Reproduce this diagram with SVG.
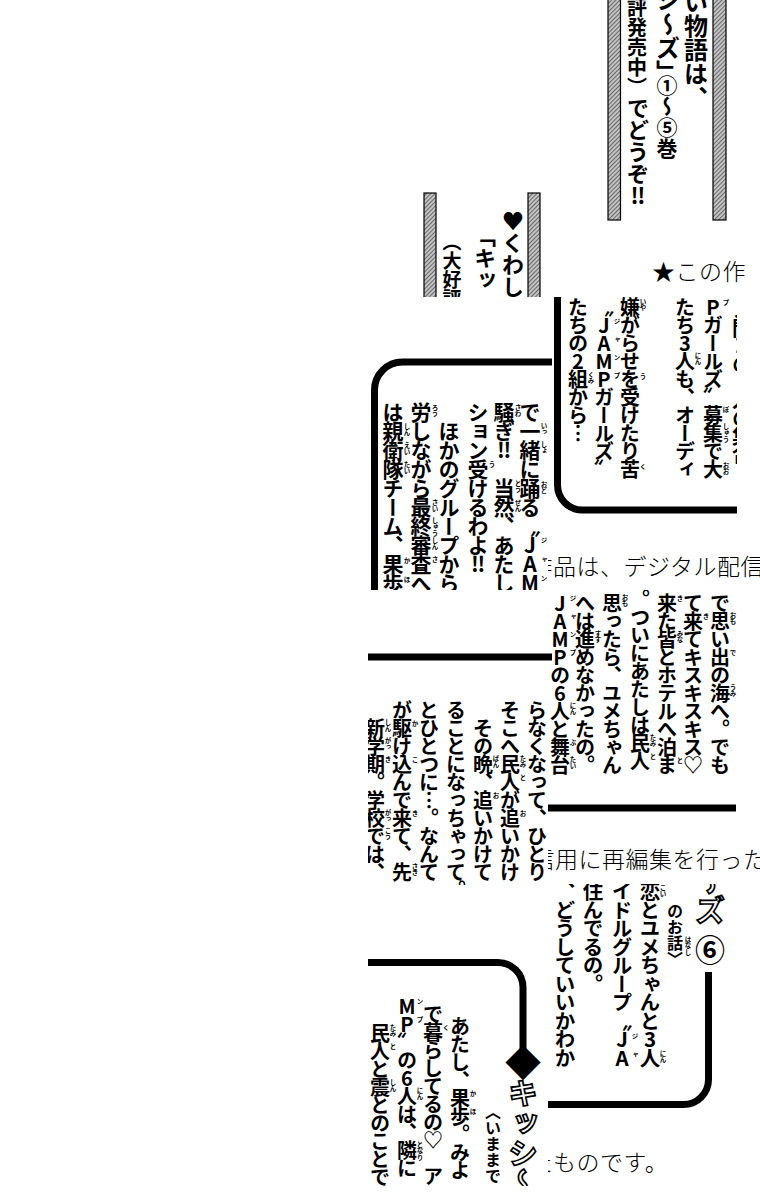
<svg xmlns="http://www.w3.org/2000/svg" width="760" height="1200" viewBox="0 0 760 1200">
<defs>
<pattern id="hatch" width="3" height="3" patternUnits="userSpaceOnUse" patternTransform="rotate(45)"><rect width="3" height="3" fill="#c4c4c4"/><line x1="0.5" y1="0" x2="0.5" y2="3" stroke="#6a6a6a" stroke-width="1.1"/></pattern>
<clipPath id="cA"><rect x="552" y="0" width="208" height="297"/></clipPath>
<clipPath id="cB"><rect x="420" y="190" width="132" height="107"/></clipPath>
<clipPath id="cC"><rect x="548" y="297" width="212" height="293"/></clipPath>
<clipPath id="cC2"><rect x="548" y="297" width="189" height="293"/></clipPath>
<clipPath id="cD"><rect x="368" y="297" width="184" height="293"/></clipPath>
<clipPath id="cE"><rect x="548" y="590" width="212" height="290"/></clipPath>
<clipPath id="cF"><rect x="368" y="590" width="184" height="295"/></clipPath>
<clipPath id="cG"><rect x="548" y="884" width="212" height="296"/></clipPath>
<clipPath id="cH"><rect x="368" y="886" width="184" height="300"/></clipPath>
</defs>
<style>
.v{writing-mode:vertical-rl;text-orientation:upright;font-family:"Noto Sans CJK JP","Noto Sans CJK SC",sans-serif;font-weight:700;fill:#000}
.s18{font-size:20px;letter-spacing:-2px}
.s19{font-size:21px;letter-spacing:-2px}
.g18{font-size:20.5px;letter-spacing:-2px}
.r{writing-mode:vertical-rl;text-orientation:upright;font-family:"Noto Sans CJK JP",sans-serif;font-weight:700;font-size:6.5px;fill:#000}
.m{font-family:"Noto Sans CJK JP","Noto Sans CJK SC",sans-serif;font-weight:300;font-size:23px;letter-spacing:0.5px;fill:#000}
.t{fill:#fff;stroke:#000;stroke-width:1.7px;font-size:30px;font-weight:700}
.ln{fill:none;stroke:#000;stroke-width:7}
.bar{fill:url(#hatch);stroke:#000;stroke-width:1.2}
</style>
<rect x="0" y="0" width="760" height="1200" fill="#fff"/>

<g id="tileA" clip-path="url(#cA)">
<rect class="bar" x="608" y="-5" width="12.5" height="225"/>
<rect class="bar" x="713" y="-5" width="13" height="225"/>
<text class="v" x="696" y="-34" font-size="24">しい物語は、</text>
<text class="v" x="668" y="-12" font-size="24">シ～ズ」</text>
<text class="v" x="667" y="75" font-size="21">①～⑤巻</text>
<text class="v" x="637" y="-3" font-size="20" font-weight="400">評発売中）</text>
<text class="v" x="638" y="97" font-size="22">でどうぞ‼</text>
<text class="m" x="652" y="280">★この作</text>
</g>

<g id="tileB" clip-path="url(#cB)">
<rect class="bar" x="424" y="193" width="12" height="110"/>
<rect class="bar" x="528" y="193" width="12" height="110"/>
<text class="v" x="513" y="210" font-size="22">♥くわし</text>
<text class="v" x="485" y="225" font-size="22">「キッ</text>
<text class="v" x="452" y="232" font-size="19" font-weight="400">（大好評</text>
</g>

<g id="tileC" clip-path="url(#cC)">
<g clip-path="url(#cC2)">
<path class="ln" d="M557.5 290 V485 A25 25 0 0 0 582.5 510 H770"/>
<text class="v s18" x="742" y="300">ノ門Ｉの・人の集合</text>
</g>
<text class="v s18" x="713" y="279">MPガールズ〟募集で大</text>
<text class="v s18" x="685" y="297">たち3人も、オーディ</text>
<text class="v s18" x="630" y="297">嫌がらせを受けたり苦</text>
<text class="v s18" x="604" y="297">〝JAMPガールズ〟</text>
<text class="v s18" x="578" y="297">たちの2組から…</text>
<text class="r" x="726" y="299">プ</text>
<text class="r" x="726" y="406">ぼ</text>
<text class="r" x="726" y="423">しゅう</text>
<text class="r" x="726" y="462">おお</text>
<text class="r" x="698" y="352">にん</text>
<text class="r" x="643" y="298">いや</text>
<text class="r" x="643" y="373">う</text>
<text class="r" x="643" y="463">く</text>
<text class="r" x="617" y="318">ジ</text>
<text class="r" x="617" y="336">ャ</text>
<text class="r" x="617" y="354">ン</text>
<text class="r" x="617" y="372">プ</text>
<text class="r" x="591" y="371">くみ</text>
<text class="m" x="529.5" y="575">作品は、デジタル配信</text>
</g>

<g id="tileD" clip-path="url(#cD)">
<path class="ln" d="M374.5 600 V390 A28 28 0 0 1 402.5 362 H560"/>
<text class="v s19" x="530" y="402">で一緒に踊る〝JAM</text>
<text class="v s19" x="504" y="402">騒ぎ‼　当然、あたしも</text>
<text class="v s19" x="478" y="402">ション受けるわよ‼</text>
<text class="v s19" x="449" y="421">ほかのグループから嫌</text>
<text class="v s19" x="421" y="402">労しながら最終審査へ。</text>
<text class="v s19" x="393" y="402">は親衛隊チーム、果歩た</text>
<text class="r" x="544" y="422">いっ</text>
<text class="r" x="544" y="441">しょ</text>
<text class="r" x="544" y="481">おど</text>
<text class="r" x="544" y="537">ジ</text>
<text class="r" x="544" y="556">ャ</text>
<text class="r" x="544" y="575">ン</text>
<text class="r" x="518" y="404">さわ</text>
<text class="r" x="518" y="480">とう</text>
<text class="r" x="518" y="499">ぜん</text>
<text class="r" x="492" y="461">う</text>
<text class="r" x="435" y="404">ろう</text>
<text class="r" x="435" y="499">さい</text>
<text class="r" x="435" y="517">しゅう</text>
<text class="r" x="435" y="537">しん</text>
<text class="r" x="435" y="556">さ</text>
<text class="r" x="407" y="423">しん</text>
<text class="r" x="407" y="442">えい</text>
<text class="r" x="407" y="461">たい</text>
<text class="r" x="407" y="557">か</text>
<text class="r" x="407" y="576">ほ</text>
</g>

<g id="tileE" clip-path="url(#cE)">
<text class="v s18" x="720" y="593">で思い出の海へ。でも</text>
<text class="v s18" x="693" y="593">て来てキスキスキス♡</text>
<text class="v s18" x="667" y="593">来た皆とホテルへ泊ま</text>
<text class="v s18" x="640" y="589">。ついにあたしは民人</text>
<text class="v s18" x="612" y="593">思ったら、ユメちゃん</text>
<text class="v s18" x="585" y="593">へは進めなかったの。</text>
<text class="v s18" x="560" y="593">JAMPの6人と舞台</text>
<text class="r" x="733" y="612">おも</text>
<text class="r" x="733" y="649">で</text>
<text class="r" x="733" y="684">うみ</text>
<text class="r" x="706" y="613">き</text>
<text class="r" x="680" y="595">き</text>
<text class="r" x="680" y="630">みな</text>
<text class="r" x="680" y="757">と</text>
<text class="r" x="653" y="734">たみ</text>
<text class="r" x="653" y="753">と</text>
<text class="r" x="625" y="594">おも</text>
<text class="r" x="598" y="630">すす</text>
<text class="r" x="573" y="595">ジ</text>
<text class="r" x="573" y="613">ャ</text>
<text class="r" x="573" y="631">ン</text>
<text class="r" x="573" y="649">プ</text>
<text class="r" x="573" y="702">にん</text>
<text class="r" x="573" y="739">ぶ</text>
<text class="r" x="573" y="756">たい</text>
<line class="ln" x1="548" y1="808" x2="736" y2="808"/>
<text class="m" x="531.5" y="868">信用に再編集を行った</text>
</g>

<g id="tileF" clip-path="url(#cF)">
<line class="ln" x1="360" y1="657" x2="560" y2="657"/>
<text class="v s18" x="537" y="700">らなくなって、ひとり</text>
<text class="v s18" x="510" y="700">そこへ民人が追いかけ</text>
<text class="v s18" x="483" y="718">その晩、追いかけて</text>
<text class="v s18" x="456" y="700">ることになっちゃって。</text>
<text class="v s18" x="429" y="700">とひとつに…。なんて</text>
<text class="v s18" x="402" y="700">が駆け込んで来て、先</text>
<text class="v s18" x="375" y="718">新学期。学校では、</text>
<text class="r" x="523" y="755">たみ</text>
<text class="r" x="523" y="774">と</text>
<text class="r" x="523" y="810">お</text>
<text class="r" x="496" y="755">ばん</text>
<text class="r" x="496" y="792">お</text>
<text class="r" x="415" y="720">か</text>
<text class="r" x="415" y="756">こ</text>
<text class="r" x="415" y="810">き</text>
<text class="r" x="415" y="863">さき</text>
<text class="r" x="388" y="719">しん</text>
<text class="r" x="388" y="737">がっ</text>
<text class="r" x="388" y="756">き</text>
<text class="r" x="388" y="809">がっ</text>
<text class="r" x="388" y="827">こう</text>
</g>

<g id="tileG" clip-path="url(#cG)">
<path class="ln" d="M708.5 972 V1079.5 A25 25 0 0 1 683.5 1104.5 H540"/>
<text class="v t" x="710" y="865">～ズ</text>
<text class="v" x="710" y="935" font-size="30">⑥</text>
<text class="v" x="675" y="903" font-size="16">のお話〉</text>
<text class="v g18" x="650" y="881">恋とユメちゃんと3人</text>
<text class="v g18" x="622" y="881">イドルグループ〝JA</text>
<text class="v g18" x="593" y="881">住んでるの。</text>
<text class="v g18" x="565" y="881">、どうしていいかわか</text>
<text class="r" x="688" y="936">はなし</text>
<text class="r" x="663" y="884">こい</text>
<text class="r" x="663" y="1050">にん</text>
<text class="r" x="635" y="1033">ジ</text>
<text class="r" x="635" y="1051">ャ</text>
<text class="m" x="529.5" y="1171">たものです。</text>
</g>

<g id="tileH" clip-path="url(#cH)">
<path class="ln" d="M360 962.5 H498 A25 25 0 0 1 523 987.5 V1050"/>
<text class="v" x="523" y="1045" font-size="36">◆</text>
<text class="v t" x="523" y="1078">キッシ～</text>
<text class="v" x="493" y="1104" font-size="16">〈いままで</text>
<text class="v s18" x="460" y="1016">あたし、果歩。みよ</text>
<text class="v s18" x="433" y="1004">で暮らしてるの♡　ア</text>
<text class="v s18" x="407" y="996">MP〟の6人は、隣に</text>
<text class="v s18" x="380" y="1023">民人と震とのことで、</text>
<text class="r" x="473" y="1090">か</text>
<text class="r" x="473" y="1108">ほ</text>
<text class="r" x="446" y="1024">く</text>
<text class="r" x="420" y="998">ン</text>
<text class="r" x="420" y="1016">プ</text>
<text class="r" x="420" y="1087">にん</text>
<text class="r" x="420" y="1141">となり</text>
<text class="r" x="393" y="1024">たみ</text>
<text class="r" x="393" y="1043">と</text>
<text class="r" x="393" y="1079">しん</text>
</g>
</svg>
